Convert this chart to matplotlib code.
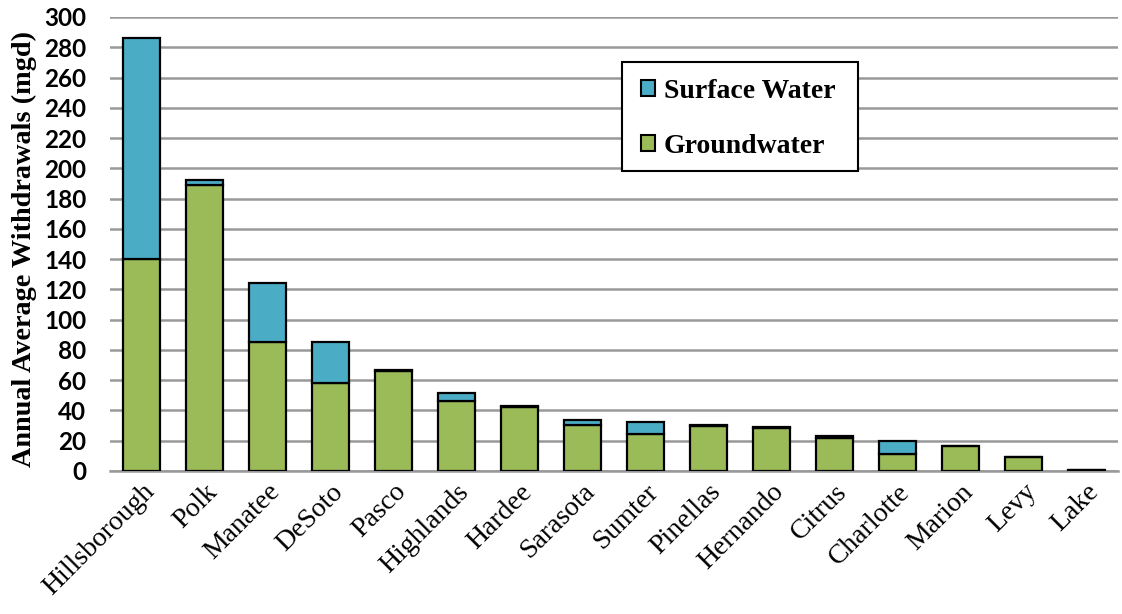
import matplotlib
matplotlib.use("Agg")
import matplotlib.pyplot as plt
from matplotlib.patches import Patch, Rectangle

counties = ["Hillsborough", "Polk", "Manatee", "DeSoto", "Pasco", "Highlands", "Hardee",
            "Sarasota", "Sumter", "Pinellas", "Hernando", "Citrus", "Charlotte", "Marion",
            "Levy", "Lake"]
groundwater = [140, 189, 85, 58, 66, 46.5, 42, 30.3, 24.3, 29.5, 28.6, 22, 11.2, 16.6, 9.2, 0.6]
surface_water = [146, 3, 39.5, 27, 0.8, 5, 1, 3.5, 7.8, 0.8, 0.8, 0.8, 8.3, 0, 0, 0]
yticks = list(range(0, 301, 20))

GREEN = "#9BBB59"
BLUE = "#4BACC6"

W, H = 1122, 614
fig = plt.figure(figsize=(W/100, H/100), dpi=100)
ax = fig.add_axes([110/W, 1 - 471/H, (1118-110)/W, (471-17)/H])

x = list(range(len(counties)))
ax.bar(x, groundwater, width=0.6, color=GREEN, edgecolor="black", linewidth=1.6, zorder=3)
ax.bar(x, surface_water, width=0.6, bottom=groundwater, color=BLUE, edgecolor="black",
       linewidth=1.6, zorder=3)

ax.set_xlim(-0.5, len(counties) - 0.5)
ax.set_ylim(0, 300)
ax.set_yticks(yticks)
ax.set_yticklabels([str(v) for v in yticks], fontsize=17.5, fontweight="bold", family="Lato")
ax.yaxis.grid(True, color="#999999", linewidth=1.8, zorder=0)
ax.tick_params(axis="y", length=0, pad=17)
ax.tick_params(axis="x", length=0, pad=6)
ax.set_xticks(x)
ax.set_xticklabels(counties, rotation=45, ha="right", rotation_mode="anchor",
                   fontsize=20, family="Liberation Serif")
for s in ["left", "right", "top"]:
    ax.spines[s].set_visible(False)
ax.spines["bottom"].set_color("#999999")
ax.spines["bottom"].set_linewidth(1.8)

ax.set_ylabel("Annual Average Withdrawals (mgd)", fontsize=20.3, fontweight="bold",
              family="Liberation Serif")
ax.yaxis.set_label_coords(-(110-37)/1008, (471-249)/454)

# legend frame
fig.patches.append(Rectangle((622/W, 1 - 171/H), (858-622)/W, (171-62)/H,
                             transform=fig.transFigure, facecolor="white",
                             edgecolor="black", linewidth=1.5, zorder=4))
handles = [Patch(facecolor=BLUE, edgecolor="black", linewidth=1.5, label="Surface Water"),
           Patch(facecolor=GREEN, edgecolor="black", linewidth=1.5, label="Groundwater")]
leg = fig.legend(handles=handles, loc="upper left", bbox_to_anchor=(629/W, 1 - 66/H),
                 prop={"family": "Liberation Serif", "weight": "bold", "size": 20},
                 frameon=False, labelspacing=1.1,
                 handlelength=0.5, handleheight=0.5, handletextpad=0.3, borderpad=0.45,
                 borderaxespad=0)
leg.set_zorder(6)

fig.savefig("out.png", dpi=100, facecolor="white")
